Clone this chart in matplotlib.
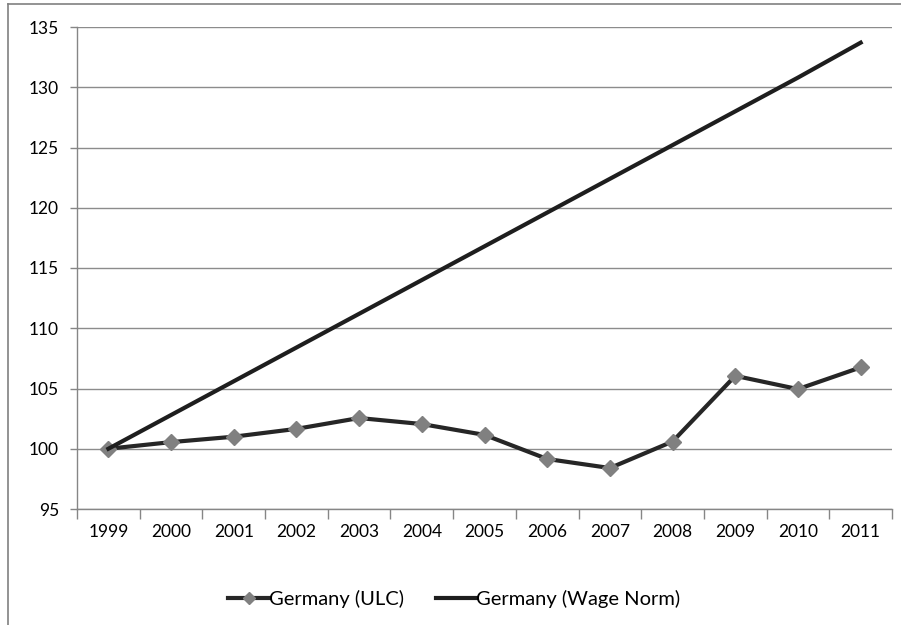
import matplotlib
matplotlib.use("Agg")
import matplotlib.pyplot as plt
from matplotlib.lines import Line2D

years = ["1999", "2000", "2001", "2002", "2003", "2004", "2005",
         "2006", "2007", "2008", "2009", "2010", "2011"]
ulc = [100.0, 100.55, 101.0, 101.65, 102.55, 102.05, 101.15,
       99.15, 98.4, 100.6, 106.05, 104.95, 106.75]
wage_norm = [100.0, 102.8, 105.6, 108.4, 111.2, 114.0, 116.8,
             119.6, 122.4, 125.2, 128.0, 130.8, 133.7]

plt.rcParams["font.family"] = ["Lato", "DejaVu Sans"]

fig = plt.figure(figsize=(9.01, 6.25), dpi=100)
ax = fig.add_axes([0.0855, 0.1856, 0.9045, 0.7712])

x = list(range(len(years)))
ax.plot(x, ulc, color="#262626", lw=3, marker="D", ms=8.5,
        mfc="#808080", mec="#808080", label="Germany (ULC)", zorder=3)
ax.plot(x, wage_norm, color="#1e1e1e", lw=3, label="Germany (Wage Norm)", zorder=3)

ax.set_ylim(95, 135)
ax.set_yticks(range(95, 136, 5))
ax.set_xlim(-0.5, len(years) - 0.5)
ax.set_xticks(x)
ax.set_xticklabels(years)
ax.set_xticks([i - 0.5 for i in range(len(years) + 1)], minor=True)
ax.tick_params(axis="x", which="major", length=0, pad=11, labelsize=12.5, colors="#000000")
ax.tick_params(axis="x", which="minor", length=7, color="#868686", width=1)
ax.tick_params(axis="y", length=5, color="#868686", width=1, labelsize=12.5, pad=8)

ax.grid(axis="y", color="#8c8c8c", lw=1)
ax.set_axisbelow(True)
for s in ["top", "right"]:
    ax.spines[s].set_visible(False)
for s in ["left", "bottom"]:
    ax.spines[s].set_color("#868686")
    ax.spines[s].set_linewidth(1)

ax.legend(loc="upper center", bbox_to_anchor=(0.463, -0.13), ncol=2, frameon=False,
          fontsize=14.5, handlelength=2.0, handletextpad=0.0, columnspacing=1.6,
          markerscale=0.75)

# outer chart border (cut off at right and bottom)
fig.add_artist(Line2D([8 / 901, 8 / 901], [0, 1 - 4 / 625], color="#808080", lw=1.2))
fig.add_artist(Line2D([8 / 901, 1], [1 - 4 / 625, 1 - 4 / 625], color="#808080", lw=1.2))

fig.savefig("out.png", dpi=100)
